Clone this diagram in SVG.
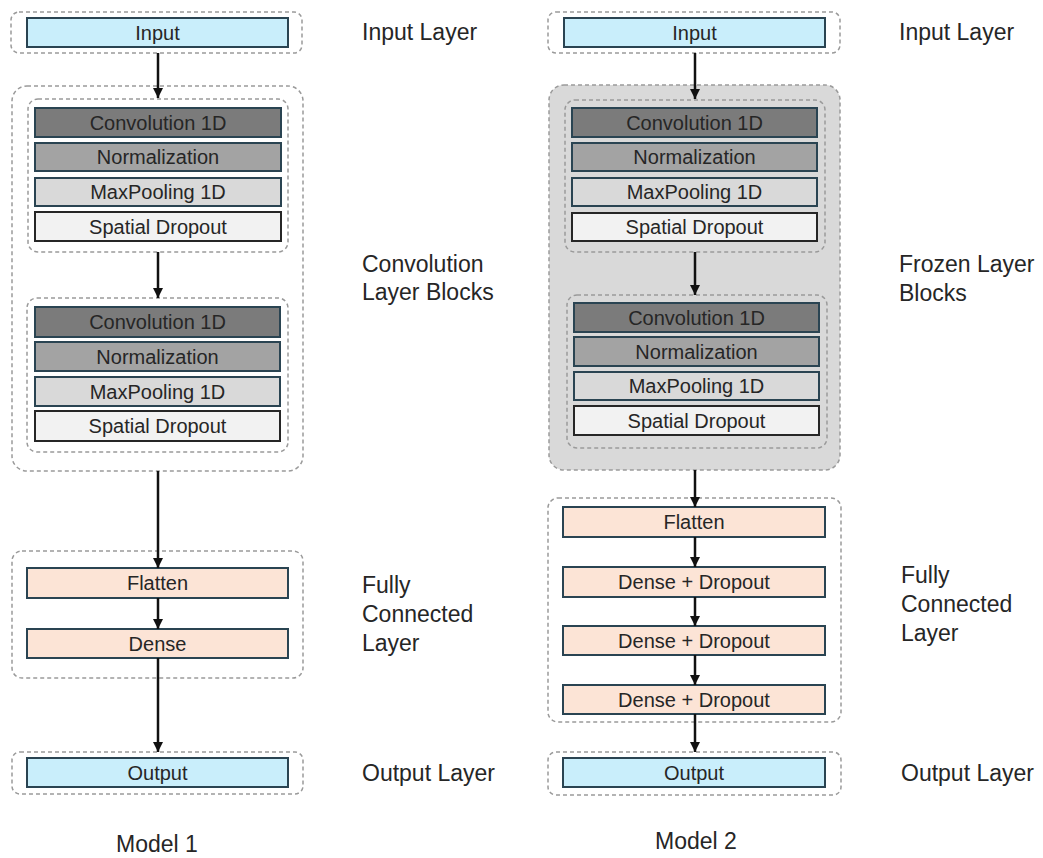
<svg xmlns="http://www.w3.org/2000/svg" width="1043" height="858" viewBox="0 0 1043 858">
<defs>
<marker id="ah" viewBox="0 0 10 10" refX="10" refY="5" markerWidth="10" markerHeight="10" markerUnits="userSpaceOnUse" orient="auto">
<path d="M0,0 L10,5 L0,10 z" fill="#111"/>
</marker>
<style>
.dash{fill:#fff;stroke:#9a9a9a;stroke-width:1.5;stroke-dasharray:4 3}
.frozen{fill:#d9d9d9;stroke:#9a9a9a;stroke-width:1.5;stroke-dasharray:4 3}
.inner{fill:none;stroke:#9a9a9a;stroke-width:1.5;stroke-dasharray:4 3}
.box{stroke:#2a4452;stroke-width:2}
.io{fill:#c9eefb}
.conv{fill:#7b7b7b}
.norm{fill:#a3a3a3}
.pool{fill:#d9d9d9}
.sd{fill:#f2f2f2;stroke:#262626}
.fc{fill:#fce4d6}
.bt{font-family:"Liberation Sans",Arial,sans-serif;font-size:20px;fill:#262626;text-anchor:middle}
.lb{font-family:"Liberation Sans",Arial,sans-serif;font-size:23px;fill:#262626}
.mt{font-family:"Liberation Sans",Arial,sans-serif;font-size:23px;fill:#262626;text-anchor:middle}
.arr{stroke:#111;stroke-width:2.5;fill:none;marker-end:url(#ah)}
</style>
</defs>
<rect width="1043" height="858" fill="#fff"/>

<!-- Model 1 -->
<g id="m1-input-layer">
<rect class="dash" x="11" y="12" width="291" height="41" rx="8"/>
<rect class="box io" x="27" y="18" width="261" height="29"/>
<text class="bt" x="157.5" y="40">Input</text>
</g>
<g id="m1-conv-blocks">
<rect class="dash" x="12" y="86" width="291" height="385" rx="15"/>
<g id="m1-block1">
<rect class="inner" x="28" y="99" width="260" height="153" rx="10"/>
<rect class="box conv" x="35" y="108" width="246" height="29"/>
<text class="bt" x="158" y="130">Convolution 1D</text>
<rect class="box norm" x="35" y="143" width="246" height="28"/>
<text class="bt" x="158" y="164">Normalization</text>
<rect class="box pool" x="35" y="178" width="246" height="28"/>
<text class="bt" x="158" y="199">MaxPooling 1D</text>
<rect class="box sd" x="35" y="212" width="246" height="29"/>
<text class="bt" x="158" y="234">Spatial Dropout</text>
</g>
<g id="m1-block2">
<rect class="inner" x="27" y="298" width="261" height="154" rx="10"/>
<rect class="box conv" x="35" y="307" width="245" height="30"/>
<text class="bt" x="157.5" y="329">Convolution 1D</text>
<rect class="box norm" x="35" y="342" width="245" height="29"/>
<text class="bt" x="157.5" y="364">Normalization</text>
<rect class="box pool" x="35" y="377" width="245" height="29"/>
<text class="bt" x="157.5" y="399">MaxPooling 1D</text>
<rect class="box sd" x="35" y="411" width="245" height="30"/>
<text class="bt" x="157.5" y="433">Spatial Dropout</text>
</g>
</g>
<g id="m1-fc-layer">
<rect class="dash" x="12" y="551" width="291" height="127" rx="10"/>
<rect class="box fc" x="27" y="568" width="261" height="30"/>
<text class="bt" x="157.5" y="590">Flatten</text>
<rect class="box fc" x="27" y="629" width="261" height="29"/>
<text class="bt" x="157.5" y="651">Dense</text>
</g>
<g id="m1-output-layer">
<rect class="dash" x="12" y="752" width="291" height="42" rx="8"/>
<rect class="box io" x="27" y="758" width="261" height="29"/>
<text class="bt" x="157.5" y="780">Output</text>
</g>

<!-- Model 2 -->
<g id="m2-input-layer">
<rect class="dash" x="548" y="12" width="292" height="41" rx="8"/>
<rect class="box io" x="564" y="18" width="261" height="29"/>
<text class="bt" x="694.5" y="40">Input</text>
</g>
<g id="m2-frozen-blocks">
<rect class="frozen" x="549" y="85" width="291" height="385" rx="15"/>
<g id="m2-block1">
<rect class="inner" x="565" y="100" width="260" height="152" rx="10"/>
<rect class="box conv" x="572" y="108" width="245" height="29"/>
<text class="bt" x="694.5" y="130">Convolution 1D</text>
<rect class="box norm" x="572" y="143" width="245" height="28"/>
<text class="bt" x="694.5" y="164">Normalization</text>
<rect class="box pool" x="572" y="178" width="245" height="28"/>
<text class="bt" x="694.5" y="199">MaxPooling 1D</text>
<rect class="box sd" x="572" y="213" width="245" height="28"/>
<text class="bt" x="694.5" y="234">Spatial Dropout</text>
</g>
<g id="m2-block2">
<rect class="inner" x="567" y="295" width="260" height="153" rx="10"/>
<rect class="box conv" x="574" y="303" width="245" height="29"/>
<text class="bt" x="696.5" y="325">Convolution 1D</text>
<rect class="box norm" x="574" y="337" width="245" height="29"/>
<text class="bt" x="696.5" y="359">Normalization</text>
<rect class="box pool" x="574" y="372" width="245" height="28"/>
<text class="bt" x="696.5" y="393">MaxPooling 1D</text>
<rect class="box sd" x="574" y="406" width="245" height="29"/>
<text class="bt" x="696.5" y="428">Spatial Dropout</text>
</g>
</g>
<g id="m2-fc-layer">
<rect class="dash" x="548" y="498" width="293" height="224" rx="10"/>
<rect class="box fc" x="563" y="507" width="262" height="30"/>
<text class="bt" x="694" y="529">Flatten</text>
<rect class="box fc" x="563" y="567" width="262" height="30"/>
<text class="bt" x="694" y="589">Dense + Dropout</text>
<rect class="box fc" x="563" y="626" width="262" height="29"/>
<text class="bt" x="694" y="648">Dense + Dropout</text>
<rect class="box fc" x="563" y="685" width="262" height="29"/>
<text class="bt" x="694" y="707">Dense + Dropout</text>
</g>
<g id="m2-output-layer">
<rect class="dash" x="548" y="752" width="293" height="43" rx="8"/>
<rect class="box io" x="563" y="758" width="262" height="29"/>
<text class="bt" x="694" y="780">Output</text>
</g>

<!-- Connectors -->
<g id="connectors">
<line class="arr" x1="158" y1="53" x2="158" y2="98"/>
<line class="arr" x1="158" y1="252" x2="158" y2="298"/>
<line class="arr" x1="158" y1="471" x2="158" y2="568"/>
<line class="arr" x1="158" y1="598" x2="158" y2="629"/>
<line class="arr" x1="158" y1="658" x2="158" y2="752"/>
<line class="arr" x1="695" y1="53" x2="695" y2="99"/>
<line class="arr" x1="695" y1="252" x2="695" y2="295"/>
<line class="arr" x1="695" y1="470" x2="695" y2="507"/>
<line class="arr" x1="695" y1="537" x2="695" y2="567"/>
<line class="arr" x1="695" y1="597" x2="695" y2="626"/>
<line class="arr" x1="695" y1="655" x2="695" y2="685"/>
<line class="arr" x1="695" y1="714" x2="695" y2="752"/>
</g>

<!-- Labels -->
<g id="labels">
<text class="lb" x="362" y="40">Input Layer</text>
<text class="lb" x="362" y="272">Convolution</text>
<text class="lb" x="362" y="300">Layer Blocks</text>
<text class="lb" x="362" y="593">Fully</text>
<text class="lb" x="362" y="622">Connected</text>
<text class="lb" x="362" y="651">Layer</text>
<text class="lb" x="362" y="781">Output Layer</text>
<text class="lb" x="899" y="40">Input Layer</text>
<text class="lb" x="899" y="272">Frozen Layer</text>
<text class="lb" x="899" y="301">Blocks</text>
<text class="lb" x="901" y="583">Fully</text>
<text class="lb" x="901" y="612">Connected</text>
<text class="lb" x="901" y="641">Layer</text>
<text class="lb" x="901" y="781">Output Layer</text>
<text class="mt" x="157" y="852">Model 1</text>
<text class="mt" x="696" y="849">Model 2</text>
</g>
</svg>
